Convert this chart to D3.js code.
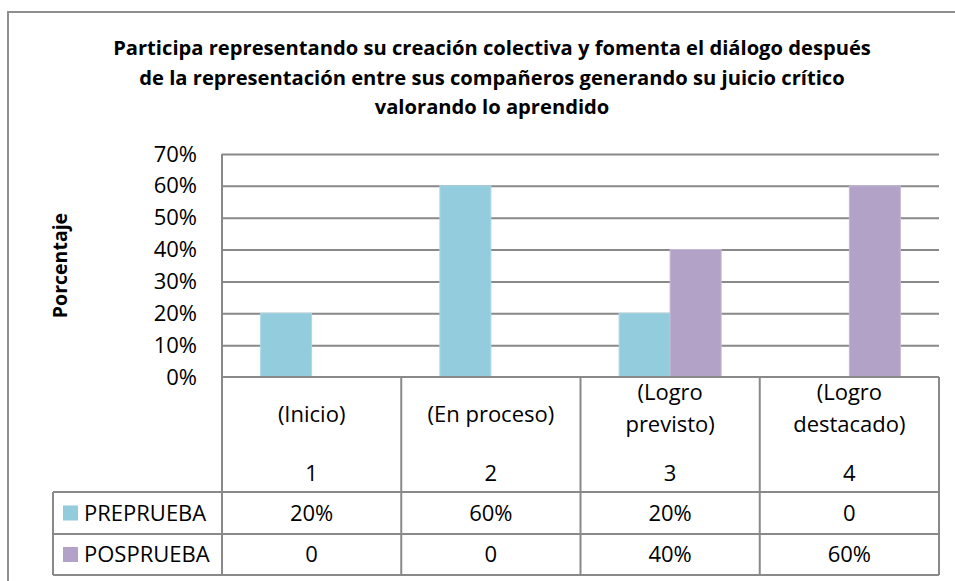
<!DOCTYPE html>
<html>
<head>
<meta charset="utf-8">
<script src="https://cdn.jsdelivr.net/npm/d3@7"></script>
<style>
  body { margin: 0; background: #fff; }
  svg { display: block; font-family: "Open Sans", sans-serif; }
</style>
</head>
<body>
<div id="chart"></div>
<script>

// data
var titleLines = [
  "Participa representando su creación colectiva y fomenta el diálogo después",
  "de la representación entre sus compañeros generando su juicio crítico",
  "valorando lo aprendido"
];
var yTitle = "Porcentaje";
var categories = ["1", "2", "3", "4"];
var categoryLabels = [["(Inicio)"], ["(En proceso)"], ["(Logro", "previsto)"], ["(Logro", "destacado)"]];
var seriesNames = ["PREPRUEBA", "POSPRUEBA"];
var preprueba = [0.20, 0.60, 0.20, 0];
var posprueba = [0, 0, 0.40, 0.60];
var yTicks = [0, 0.1, 0.2, 0.3, 0.4, 0.5, 0.6, 0.7];

var colors = {PREPRUEBA: "#93cddd", POSPRUEBA: "#b3a2c7"};
var lineColor = "#898989";

var width = 955, height = 581;
var plot = {left: 222, right: 939, top: 154, bottom: 377};
var table = {legendLeft: 53, headRow: 492, row1: 534, row2: 575};

var svg = d3.select("#chart").append("svg")
  .attr("width", width)
  .attr("height", height);

// outer chart border
svg.append("rect")
  .attr("x", 8).attr("y", 12)
  .attr("width", 960).attr("height", 600)
  .attr("fill", "none")
  .attr("stroke", "#8e8e8e")
  .attr("stroke-width", 2);

// title, fitted to the width of the first line
var title = svg.append("g").attr("font-weight", "bold").attr("fill", "#000");
var tl = title.selectAll("text").data(titleLines).enter().append("text")
  .attr("x", 492)
  .attr("y", function(d, i) { return 55 + i * 29.5; })
  .attr("text-anchor", "middle")
  .attr("font-size", 18)
  .text(function(d) { return d; });
var w0 = tl.node().getComputedTextLength();
tl.attr("font-size", 18 * 758 / w0);

// scales
var x0 = d3.scaleBand().domain(categories).range([plot.left, plot.right]).padding(0);
var x1 = d3.scaleBand().domain(seriesNames).range([0, x0.bandwidth()]).paddingInner(0).paddingOuter(0.757);
var y = d3.scaleLinear().domain([0, 0.7]).range([plot.bottom, plot.top]);

// gridlines
svg.append("g")
  .attr("transform", "translate(" + plot.left + ",0)")
  .call(d3.axisLeft(y).tickValues(yTicks.slice(1)).tickSize(-(plot.right - plot.left)).tickFormat(""))
  .call(function(g) { g.select(".domain").remove(); })
  .selectAll("line").attr("stroke", lineColor).attr("stroke-width", 2);

// y tick labels
svg.append("g")
  .attr("transform", "translate(" + (plot.left - 25) + ",0)")
  .call(d3.axisLeft(y).tickValues(yTicks).tickSize(0).tickPadding(0).tickFormat(d3.format(".0%")))
  .call(function(g) { g.select(".domain").remove(); })
  .selectAll("text")
  .attr("font-family", "Open Sans")
  .attr("font-size", 22)
  .attr("fill", "#000");

// y title
svg.append("text")
  .attr("transform", "translate(67," + ((plot.top + plot.bottom) / 2) + ") rotate(-90)")
  .attr("text-anchor", "middle")
  .attr("font-weight", "bold")
  .attr("font-size", 19.5)
  .text(yTitle);

// bars
var rows = seriesNames.map(function(s, i) {
  return {name: s, values: i === 0 ? preprueba : posprueba};
});
var bars = [];
rows.forEach(function(r) {
  r.values.forEach(function(v, i) { bars.push({series: r.name, cat: categories[i], value: v}); });
});
svg.append("g").selectAll("rect").data(bars.filter(function(d) { return d.value > 0; }))
  .enter().append("rect")
  .attr("x", function(d) { return x0(d.cat) + x1(d.series); })
  .attr("y", function(d) { return y(d.value); })
  .attr("width", x1.bandwidth())
  .attr("height", function(d) { return y(0) - y(d.value); })
  .attr("fill", function(d) { return colors[d.series]; })
  .attr("stroke", function(d) { return d.series === "PREPRUEBA" ? "#a9d8e5" : "#c5b8d6"; })
  .attr("stroke-width", 1);

// axis / table lines
var lines = svg.append("g").attr("stroke", lineColor).attr("stroke-width", 2);
lines.append("line").attr("x1", plot.left).attr("x2", plot.left).attr("y1", plot.top).attr("y2", table.row2);
lines.append("line").attr("x1", plot.left).attr("x2", plot.right).attr("y1", plot.bottom).attr("y2", plot.bottom);
categories.forEach(function(c) {
  var xr = x0(c) + x0.bandwidth();
  lines.append("line").attr("x1", xr).attr("x2", xr).attr("y1", plot.bottom).attr("y2", table.row2);
});
[table.headRow, table.row1, table.row2].forEach(function(yy) {
  lines.append("line").attr("x1", table.legendLeft).attr("x2", plot.right).attr("y1", yy).attr("y2", yy);
});
lines.append("line").attr("x1", table.legendLeft).attr("x2", table.legendLeft).attr("y1", table.headRow).attr("y2", table.row2);

// header cells
var head = svg.append("g").attr("font-size", 22).attr("text-anchor", "middle").attr("fill", "#000");
categories.forEach(function(c, i) {
  var cx = x0(c) + x0.bandwidth() / 2;
  var lbl = categoryLabels[i];
  var start = lbl.length === 1 ? 414 : 392;
  lbl.forEach(function(t, j) {
    head.append("text").attr("x", cx).attr("y", start + j * 32).attr("dy", "0.35em").text(t);
  });
  head.append("text").attr("x", cx).attr("y", 473).attr("dy", "0.35em").text(c);
});

// data rows
var fmt = function(v) { return v === 0 ? "0" : d3.format(".0%")(v); };
var rowY = [(table.headRow + table.row1) / 2, (table.row1 + table.row2) / 2];
rows.forEach(function(r, i) {
  var g = svg.append("g").attr("font-size", 22).attr("fill", "#000");
  g.append("rect")
    .attr("x", 63).attr("y", rowY[i] - 7.5)
    .attr("width", 15).attr("height", 15)
    .attr("fill", colors[r.name]);
  g.append("text").attr("x", 84).attr("y", rowY[i]).attr("dy", "0.35em").text(r.name);
  r.values.forEach(function(v, k) {
    g.append("text")
      .attr("x", x0(categories[k]) + x0.bandwidth() / 2)
      .attr("y", rowY[i]).attr("dy", "0.35em")
      .attr("text-anchor", "middle")
      .text(fmt(v));
  });
});

</script>
</body>
</html>
